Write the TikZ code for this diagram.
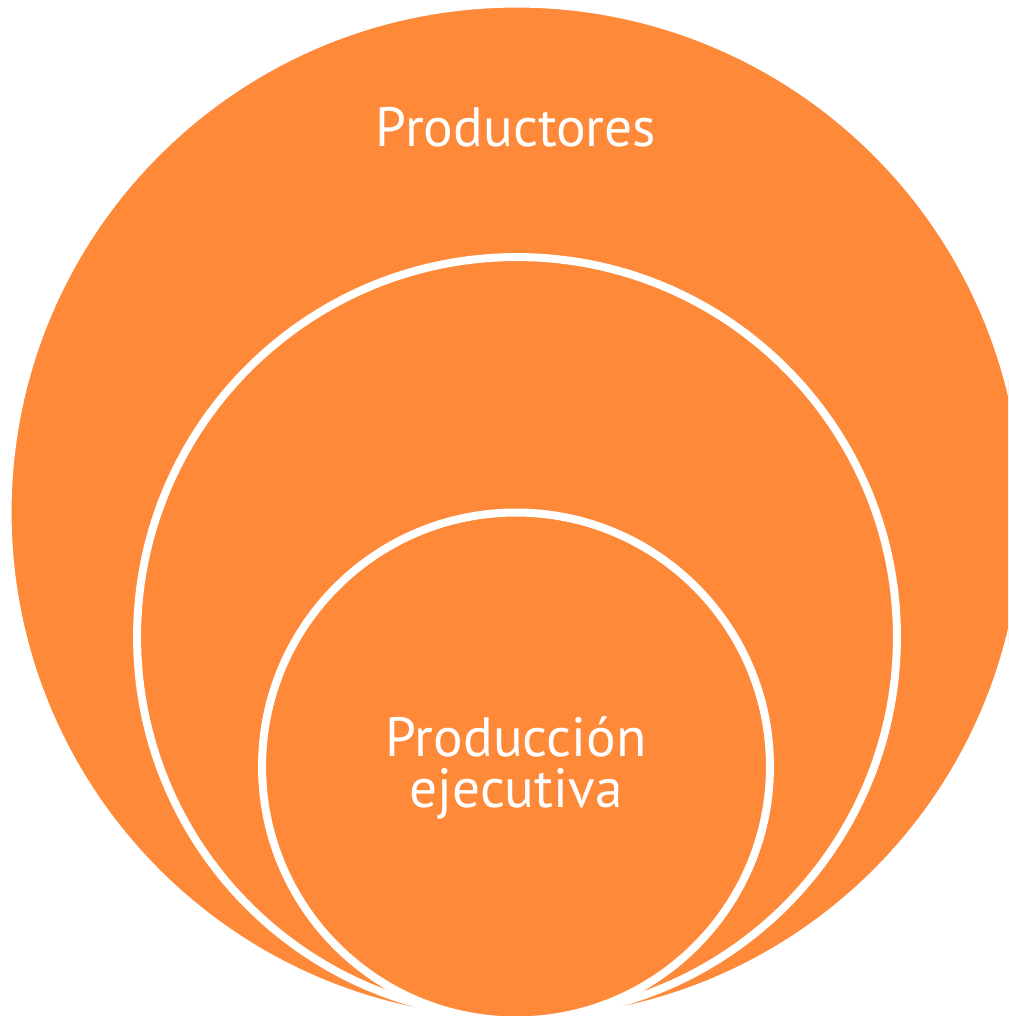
\documentclass[tikz,border=0pt]{standalone}
\usepackage{fontspec}
\setmainfont{PT Sans}
\usetikzlibrary{positioning}
\definecolor{orng}{RGB}{253,137,57}

\begin{document}
\begin{tikzpicture}[x=0.02cm,y=0.02cm,
  ring/.style={draw=white,fill=orng,circle,line width=0.16cm,inner sep=0pt},
  lbl/.style={text=white,font=\fontsize{31.5}{29}\selectfont,align=center}]
  \useasboundingbox (0,0) rectangle (1008,1016);
  \clip (0,0) rectangle (1008,1016);
  \node[ring,minimum size=20.36cm] (1) at (516.5,503.5){};
  \node[ring,minimum size=15.2cm] (2) at (517,379){};
  \node[ring,minimum size=10.16cm] (3) at (516,249.5){};
  \node[lbl,anchor=base] (4) at (516,869){Productores};
  \node[lbl] (5) at (516,248){Producción\\ejecutiva};
\end{tikzpicture}
\end{document}
